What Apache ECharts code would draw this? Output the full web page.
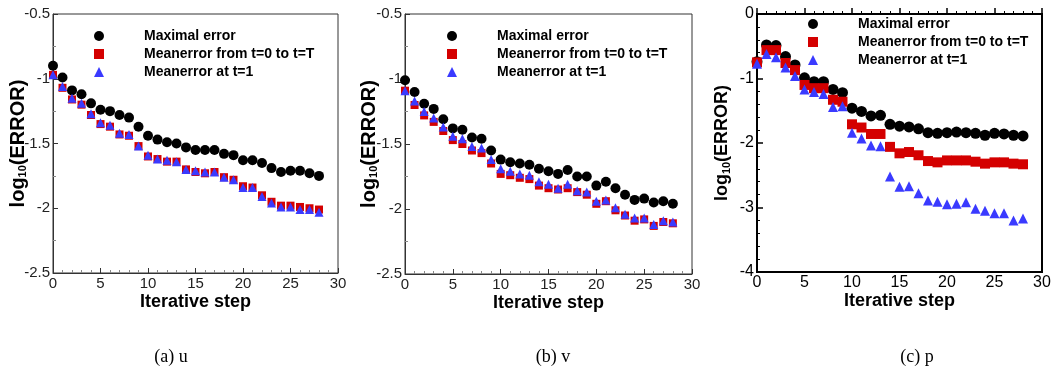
<!DOCTYPE html>
<html>
<head>
<meta charset="utf-8">
<script src="https://cdn.jsdelivr.net/npm/echarts@6/dist/echarts.min.js"></script>
<style>
  html, body { margin: 0; padding: 0; background: #fff; }
  #chart { width: 1056px; height: 378px; }
</style>
</head>
<body>
<div id="chart"></div>
<script>
const steps = [0, 1, 2, 3, 4, 5, 6, 7, 8, 9, 10, 11, 12, 13, 14, 15, 16, 17, 18, 19, 20, 21, 22, 23, 24, 25, 26, 27, 28]
const seriesNames = ['Maximal error', 'Meanerror from t=0 to t=T', 'Meanerror at t=1']
const captions = ['(a) u', '(b) v', '(c) p']

// (a) u
const uMax = [-0.90, -0.99, -1.09, -1.12, -1.19, -1.24, -1.25, -1.28, -1.30, -1.37, -1.44, -1.47, -1.49, -1.50, -1.53, -1.55, -1.55, -1.55, -1.58, -1.59, -1.63, -1.63, -1.65, -1.69, -1.72, -1.71, -1.71, -1.73, -1.75]
const uMeanT = [-0.97, -1.07, -1.16, -1.20, -1.28, -1.35, -1.37, -1.43, -1.44, -1.52, -1.60, -1.62, -1.64, -1.64, -1.70, -1.72, -1.73, -1.72, -1.76, -1.78, -1.83, -1.84, -1.90, -1.95, -1.98, -1.98, -1.99, -2.00, -2.01]
const uMean1 = [-0.97, -1.06, -1.15, -1.19, -1.27, -1.34, -1.36, -1.42, -1.43, -1.52, -1.59, -1.62, -1.63, -1.64, -1.70, -1.71, -1.72, -1.72, -1.76, -1.78, -1.84, -1.84, -1.91, -1.96, -1.99, -1.99, -2.01, -2.01, -2.03]

// (b) v
const vMax = [-1.01, -1.10, -1.19, -1.23, -1.31, -1.38, -1.39, -1.45, -1.46, -1.55, -1.62, -1.64, -1.65, -1.66, -1.69, -1.71, -1.73, -1.70, -1.75, -1.75, -1.82, -1.79, -1.84, -1.89, -1.93, -1.92, -1.95, -1.94, -1.96]
const vMeanT = [-1.09, -1.20, -1.28, -1.33, -1.40, -1.47, -1.50, -1.55, -1.57, -1.65, -1.73, -1.74, -1.76, -1.77, -1.82, -1.84, -1.85, -1.84, -1.87, -1.89, -1.96, -1.94, -2.01, -2.05, -2.09, -2.08, -2.13, -2.10, -2.11]
const vMean1 = [-1.09, -1.17, -1.25, -1.30, -1.37, -1.44, -1.46, -1.52, -1.53, -1.62, -1.69, -1.71, -1.73, -1.74, -1.79, -1.81, -1.84, -1.81, -1.86, -1.87, -1.94, -1.93, -1.99, -2.04, -2.07, -2.07, -2.12, -2.09, -2.10]

// (c) p
const pMax = [-0.74, -0.48, -0.49, -0.66, -0.79, -0.99, -1.05, -1.05, -1.17, -1.22, -1.46, -1.51, -1.58, -1.57, -1.71, -1.74, -1.75, -1.78, -1.84, -1.85, -1.84, -1.83, -1.84, -1.85, -1.88, -1.85, -1.86, -1.88, -1.89]
const pMeanT = [-0.75, -0.56, -0.56, -0.76, -0.87, -1.10, -1.15, -1.15, -1.33, -1.36, -1.71, -1.76, -1.86, -1.86, -2.06, -2.16, -2.14, -2.19, -2.28, -2.30, -2.27, -2.27, -2.27, -2.29, -2.32, -2.30, -2.30, -2.32, -2.33]
const pMean1 = [-0.77, -0.62, -0.67, -0.83, -0.96, -1.17, -1.21, -1.24, -1.44, -1.43, -1.84, -1.93, -2.04, -2.05, -2.52, -2.68, -2.67, -2.78, -2.89, -2.91, -2.95, -2.94, -2.92, -3.02, -3.05, -3.09, -3.09, -3.20, -3.17]

const font = 'Liberation Sans, Arial, sans-serif'
const colors = ['#000000', '#d40000', '#3a3aff']
const symbols = ['circle', 'rect', 'triangle']

// layout of the three panels
const panels = [
  { grid: { left: 53, top: 14, width: 285, height: 259 }, yMin: -2.5, yMax: -0.5, yInt: 0.5, data: [uMax, uMeanT, uMean1], thick: false, legend: { left: 89, top: 22 }, cap: 166, yGap: 25 },
  { grid: { left: 405, top: 14, width: 287, height: 260 }, yMin: -2.5, yMax: -0.5, yInt: 0.5, data: [vMax, vMeanT, vMean1], thick: false, legend: { left: 442, top: 22 }, cap: 548, yGap: 26 },
  { grid: { left: 757, top: 14, width: 285, height: 258 }, yMin: -4, yMax: 0, yInt: 1, data: [pMax, pMeanT, pMean1], thick: true, legend: { left: 803, top: 10 }, cap: 912, yGap: 25 },
]

const chart = echarts.init(document.getElementById('chart'), null, { renderer: 'canvas' })

const option = {
  animation: false,
  title: [],
  legend: [],
  grid: [],
  xAxis: [],
  yAxis: [],
  series: [],
}

panels.forEach((p, k) => {
  const lineColor = p.thick ? '#000' : '#333'
  const lineWidth = p.thick ? 2 : 1
  const labelSize = p.thick ? 16 : 15
  option.grid.push({
    ...p.grid,
    show: true,
    borderColor: lineColor,
    borderWidth: lineWidth,
    backgroundColor: 'transparent',
  })
  option.xAxis.push({
    gridIndex: k,
    type: 'value',
    min: 0,
    max: 30,
    interval: 5,
    name: 'Iterative step',
    nameLocation: 'middle',
    nameGap: 20,
    nameMoveOverlap: false,
    nameTextStyle: { fontFamily: font, fontWeight: 'bold', fontSize: 18, color: '#000' },
    axisLine: { lineStyle: { color: lineColor, width: lineWidth } },
    axisTick: { inside: true, length: p.thick ? 6 : 5, lineStyle: { color: lineColor, width: p.thick ? 1.5 : 1 } },
    minorTick: { show: true, splitNumber: 5, length: 3, lineStyle: { color: p.thick ? '#000' : '#888' } },
    axisLabel: { margin: 3, fontFamily: font, fontSize: labelSize, color: p.thick ? '#000' : '#222' },
    splitLine: { show: false },
  })
  option.yAxis.push({
    gridIndex: k,
    type: 'value',
    min: p.yMin,
    max: p.yMax,
    interval: p.yInt,
    name: '{a|log}{s|10}{a|(ERROR)}',
    nameLocation: 'middle',
    nameGap: p.yGap,
    nameMoveOverlap: false,
    nameRotate: 90,
    nameTextStyle: {
      color: '#000',
      rich: {
        a: { fontFamily: font, fontWeight: 'bold', fontSize: p.thick ? 18 : 20, color: '#000' },
        s: { fontFamily: font, fontWeight: 'bold', fontSize: 11, color: '#000', verticalAlign: 'bottom', padding: [9, 0, 0, 0] },
      },
    },
    axisLine: { lineStyle: { color: lineColor, width: lineWidth } },
    axisTick: { inside: true, length: p.thick ? 6 : 5, lineStyle: { color: lineColor, width: p.thick ? 1.5 : 1 } },
    minorTick: { show: true, splitNumber: p.thick ? 5 : 2, length: 3, lineStyle: { color: p.thick ? '#000' : '#888' } },
    axisLabel: { margin: 3, fontFamily: font, fontSize: labelSize, color: p.thick ? '#000' : '#222' },
    splitLine: { show: false },
  })
  option.legend.push({
    orient: 'vertical',
    left: p.legend.left,
    top: p.legend.top,
    itemWidth: 10,
    itemHeight: 10,
    itemGap: 0,
    selectedMode: false,
    data: seriesNames.map((n, i) => ({ name: n, icon: symbols[i], itemStyle: { color: colors[i] } })),
    textStyle: { fontFamily: font, fontWeight: 'bold', fontSize: 14, color: '#000', lineHeight: 18, padding: [0, 0, 0, 35] },
  })
  option.title.push({
    text: captions[k],
    left: p.cap,
    top: 343,
    textAlign: 'center',
    textStyle: { fontFamily: 'Liberation Serif, serif', fontWeight: 'normal', fontSize: 18, color: '#000' },
  })
  p.data.forEach((arr, i) => {
    const size = p.thick ? [11, 10, 10][i] : [10, 8, 9][i]
    option.series.push({
      name: seriesNames[i],
      type: 'scatter',
      xAxisIndex: k,
      yAxisIndex: k,
      symbol: symbols[i],
      symbolSize: size,
      itemStyle: { color: colors[i], opacity: 1 },
      data: steps.map((s, j) => [s, arr[j]]),
      z: 2 + i,
    })
  })
})

chart.setOption(option)
</script>
</body>
</html>
